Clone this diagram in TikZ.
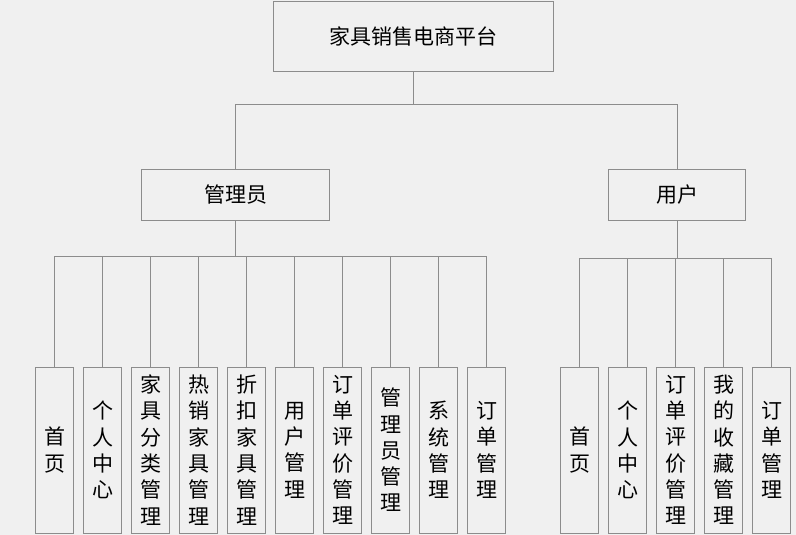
\documentclass[tikz,border=0pt]{standalone}
\usepackage{fontspec}
\setmainfont{Noto Sans CJK SC}
\usepackage{xcolor}
\definecolor{linegray}{RGB}{140,140,140}
\definecolor{paper}{RGB}{240,240,240}

\begin{document}
\begin{tikzpicture}[x=1pt,y=-1pt,
        box/.style={draw=linegray, line width=0.9pt, inner sep=0pt, font=\fontsize{21}{26}\selectfont},
        leaf/.style={box, minimum width=38pt, minimum height=166pt, align=center, font=\fontsize{21}{26.3}\selectfont},
        link/.style={linegray, line width=0.9pt}]
        \fill [paper] (0,0) rectangle (796,535);
        \useasboundingbox (0,0) rectangle (796,535);

        \node [box, minimum width=280pt, minimum height=70pt] (top) at (413,36) {家具销售电商平台};
        \node [box, minimum width=188pt, minimum height=51pt] (admin) at (235.5,194.5) {管理员};
        \node [box, minimum width=137pt, minimum height=51pt] (user) at (677,194.5) {用户};

        \node [leaf] (a1) at (54.6,450) {首\\页};
        \node [leaf] (a2) at (102.6,450) {个\\人\\中\\心};
        \node [leaf] (a3) at (150.6,450) {家\\具\\分\\类\\管\\理};
        \node [leaf] (a4) at (198.6,450) {热\\销\\家\\具\\管\\理};
        \node [leaf] (a5) at (246.6,450) {折\\扣\\家\\具\\管\\理};
        \node [leaf] (a6) at (294.6,450) {用\\户\\管\\理};
        \node [leaf] (a7) at (342.6,450) {订\\单\\评\\价\\管\\理};
        \node [leaf] (a8) at (390.6,450) {管\\理\\员\\管\\理};
        \node [leaf] (a9) at (438.6,450) {系\\统\\管\\理};
        \node [leaf] (a10) at (486.6,450) {订\\单\\管\\理};

        \node [leaf] (u1) at (579.6,450) {首\\页};
        \node [leaf] (u2) at (627.6,450) {个\\人\\中\\心};
        \node [leaf] (u3) at (675.6,450) {订\\单\\评\\价\\管\\理};
        \node [leaf] (u4) at (723.6,450) {我\\的\\收\\藏\\管\\理};
        \node [leaf] (u5) at (771.6,450) {订\\单\\管\\理};

        \coordinate (busT) at (413,104);
        \coordinate (busA) at (235.5,256);
        \coordinate (busU) at (677,258);

        \draw [link] (top) -- (busT);
        \draw [link] (busT) -| (admin);
        \draw [link] (busT) -| (user);

        \draw [link] (admin) -- (busA);
        \draw [link] (busA) -| (a1);
        \draw [link] (busA) -| (a2);
        \draw [link] (busA) -| (a3);
        \draw [link] (busA) -| (a4);
        \draw [link] (busA) -| (a5);
        \draw [link] (busA) -| (a6);
        \draw [link] (busA) -| (a7);
        \draw [link] (busA) -| (a8);
        \draw [link] (busA) -| (a9);
        \draw [link] (busA) -| (a10);

        \draw [link] (user) -- (busU);
        \draw [link] (busU) -| (u1);
        \draw [link] (busU) -| (u2);
        \draw [link] (busU) -| (u3);
        \draw [link] (busU) -| (u4);
        \draw [link] (busU) -| (u5);

    \end{tikzpicture}
\end{document}
